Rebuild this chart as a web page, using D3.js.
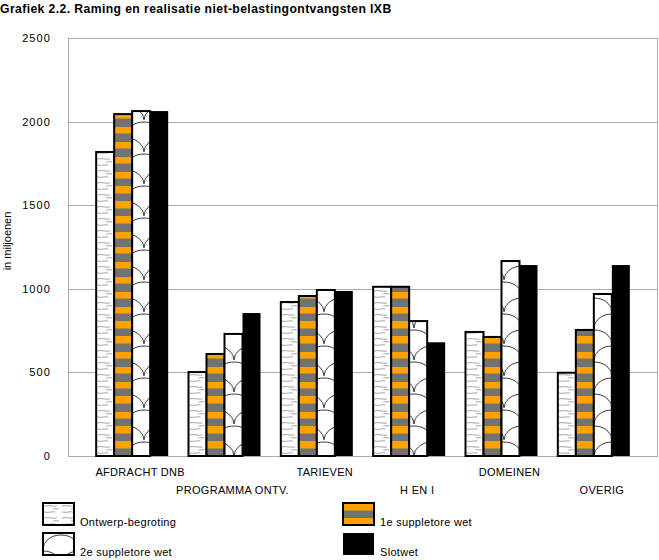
<!DOCTYPE html>
<html><head><meta charset="utf-8">
<script src="https://cdn.jsdelivr.net/npm/d3@7"></script>
<style>body{margin:0;background:#fff}svg{display:block}</style>
</head><body>
<svg id="c" width="659" height="560"></svg>
<script>
const categories = ["AFDRACHT DNB","PROGRAMMA ONTV.","TARIEVEN","H EN I","DOMEINEN","OVERIG"];
const seriesNames = ["Ontwerp-begroting","1e suppletore wet","2e suppletore wet","Slotwet"];
const ontwerp = [1818, 502, 921, 1012, 742, 498];
const supp1   = [2045, 610, 957, 1012, 712, 754];
const supp2   = [2063, 730, 993, 807, 1166, 969];
const slotwet = [2063, 855, 987, 680, 1142, 1142];
const yTicks = [0, 500, 1000, 1500, 2000, 2500];
const title = "Grafiek 2.2.  Raming en realisatie niet-belastingontvangsten IXB";
const yTitle = "in miljoenen";

const seriesValues = [ontwerp, supp1, supp2, slotwet];
const kinds = ["lines", "stripes", "scales", "solid"];

const svg = d3.select("#c");
const defs = svg.append("defs");
const font = "'Liberation Sans', Arial, Helvetica, sans-serif";

const plot = {left: 68, right: 658, top: 38, bottom: 456};
const y = d3.scaleLinear().domain([0, 2500]).range([plot.bottom, plot.top]);
const x = d3.scaleBand().domain(categories).range([86, 640]).paddingInner(0);
const groupW = 72;
const xs = d3.scaleBand().domain(seriesNames)
  .range([(x.bandwidth() - groupW) / 2, (x.bandwidth() + groupW) / 2]);

let pid = 0;
function makePattern(kind, px, py) {
  const id = "p" + (pid++);
  if (kind === "lines") {
    const p = defs.append("pattern").attr("id", id).attr("patternUnits", "userSpaceOnUse")
      .attr("x", px).attr("y", py).attr("width", 18).attr("height", 12);
    p.append("rect").attr("width", 18).attr("height", 12).attr("fill", "#fff");
    p.append("path").attr("d", "M1,3 q4,-0.8 8,0 t5,-0.4 M1,9 q3,0.7 7,0 t4,0.4 M10,6 q3,-0.6 6,0")
      .attr("fill", "none").attr("stroke", "#a8a8a8").attr("stroke-width", 1);
  } else if (kind === "stripes") {
    const p = defs.append("pattern").attr("id", id).attr("patternUnits", "userSpaceOnUse")
      .attr("x", px).attr("y", py).attr("width", 20).attr("height", 15);
    p.append("rect").attr("width", 20).attr("height", 15).attr("fill", "#727272");
    p.append("rect").attr("y", 0).attr("width", 20).attr("height", 7.5).attr("fill", "#ffa200");
  } else if (kind === "scales") {
    const p = defs.append("pattern").attr("id", id).attr("patternUnits", "userSpaceOnUse")
      .attr("x", px).attr("y", py).attr("width", 36).attr("height", 32);
    p.append("rect").attr("width", 36).attr("height", 32).attr("fill", "#fff");
    p.append("path").attr("d", "M0,16 A18,14 0 0,1 36,16 M-18,32 A18,14 0 0,1 18,32 M18,32 A18,14 0 0,1 54,32")
      .attr("fill", "none").attr("stroke", "#222").attr("stroke-width", 0.9);
  } else {
    return "#000";
  }
  return "url(#" + id + ")";
}

// title
svg.append("text").attr("x", 0).attr("y", 13).attr("font-family", font).attr("font-size", 12.2)
  .attr("letter-spacing", 0.4).attr("font-weight", "bold").attr("fill", "#000").text(title);

// gridlines
svg.append("g").selectAll("line").data(yTicks).join("line")
  .attr("x1", plot.left).attr("x2", plot.right)
  .attr("y1", d => Math.round(y(d)) + 0.5).attr("y2", d => Math.round(y(d)) + 0.5)
  .attr("stroke", "#ababab").attr("stroke-width", 1);
svg.append("line").attr("x1", plot.left + 0.5).attr("x2", plot.left + 0.5)
  .attr("y1", plot.top).attr("y2", plot.bottom).attr("stroke", "#ababab");
svg.append("line").attr("x1", plot.right - 0.5).attr("x2", plot.right - 0.5)
  .attr("y1", plot.top).attr("y2", plot.bottom).attr("stroke", "#ababab");

// y axis labels
const yAxis = d3.axisLeft(y).tickValues(yTicks).tickSize(0).tickPadding(0).tickFormat(d3.format("d"));
const ya = svg.append("g").attr("transform", "translate(51,0)").call(yAxis);
ya.select(".domain").remove();
ya.selectAll("text").attr("font-family", font).attr("font-size", 11)
  .attr("letter-spacing", 1.1).attr("fill", "#000");

svg.append("text").attr("transform", "translate(11,241) rotate(-90)")
  .attr("text-anchor", "middle").attr("font-family", font).attr("font-size", 11).text(yTitle);

// bars
const gBars = svg.append("g");
categories.forEach((cat, ci) => {
  seriesNames.forEach((s, si) => {
    const v = seriesValues[si][ci];
    const bx = x(cat) + xs(s);
    const fill = makePattern(kinds[si], kinds[si] === "scales" ? 0 : bx, y(0));
    gBars.append("rect")
      .attr("x", bx).attr("y", y(v))
      .attr("width", xs.bandwidth()).attr("height", y(0) - y(v))
      .attr("fill", fill)
      .attr("stroke", "#000").attr("stroke-width", kinds[si] === "solid" ? 0 : 2);
  });
});

// x labels (staggered)
svg.append("g").selectAll("text").data(categories).join("text")
  .attr("x", d => x(d) + x.bandwidth() / 2 + 8)
  .attr("y", (d, i) => i % 2 === 0 ? 476 : 494)
  .attr("text-anchor", "middle").attr("font-family", font).attr("font-size", 11)
  .attr("letter-spacing", 0.3).attr("fill", "#000").text(d => d);

// legend
const legPos = [[43, 503], [343, 503], [43, 533], [343, 533]];
seriesNames.forEach((s, si) => {
  const [lx, ly] = legPos[si];
  const fill = makePattern(kinds[si], lx, ly);
  svg.append("rect").attr("x", lx).attr("y", ly).attr("width", 31).attr("height", 22)
    .attr("fill", fill).attr("stroke", "#000").attr("stroke-width", kinds[si] === "solid" ? 0 : 2);
  svg.append("text").attr("x", lx + 37).attr("y", ly + 23).attr("font-family", font)
    .attr("font-size", 11).attr("letter-spacing", 0.3).attr("fill", "#000").text(s);
});
</script>
</body></html>
